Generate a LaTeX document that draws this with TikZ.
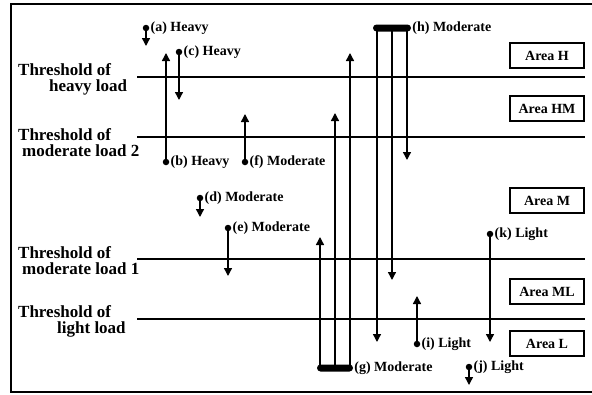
\documentclass[tikz,border=0pt]{standalone}
\usepackage{fontspec}
\setmainfont{Liberation Serif}
\usetikzlibrary{positioning, arrows.meta}
\tikzstyle{Arrow} = [
%vertical move with filled tip
line width=1.4pt, -{Triangle[width=8pt,length=8pt]}
]

\begin{document}
\begin{tikzpicture}[x=1pt, y=-1pt,
			threshold/.style = {line width=1.3pt},
			level/.style = {align=left, inner sep=0pt, anchor=north west, font=\fontsize{17}{16}\selectfont\bfseries},
			area/.style = {rectangle, draw, line width=1.2pt, minimum width=74pt, minimum height=25pt, inner sep=0pt, font=\fontsize{14}{16}\selectfont\bfseries},
			dot/.style = {circle, fill, inner sep=0pt, minimum size=6.5pt},
			bar/.style = {rectangle, fill, rounded corners=3.5pt, inner sep=0pt, minimum height=7pt},
			tag/.style = {anchor=west, inner sep=1pt, font=\fontsize{14}{16}\selectfont\bfseries},
		]
		\useasboundingbox (0,0) rectangle (592,394);
		\draw[line width=1.5pt] (11,4) rectangle (598,392);

		% thresholds
		\coordinate (HL) at (137,77);  \coordinate (HR) at (585,77);
		\coordinate (M2L) at (137,137); \coordinate (M2R) at (585,137);
		\coordinate (M1L) at (137,259); \coordinate (M1R) at (585,259);
		\coordinate (LL) at (137,319);  \coordinate (LR) at (585,319);
		\draw[threshold] (HL)--(HR);
		\draw[threshold] (M2L)--(M2R);
		\draw[threshold] (M1L)--(M1R);
		\draw[threshold] (LL)--(LR);

		\node[level](TH) at (18,63){Threshold of\\\hspace*{31pt}heavy load};
		\node[level](TM2) at (18,128){Threshold of\\\hspace*{4pt}moderate load 2};
		\node[level](TM1) at (18,246){Threshold of\\\hspace*{4pt}moderate load 1};
		\node[level](TL) at (18,305){Threshold of\\\hspace*{39pt}light load};

		% areas
		\node[area](AH) at (547,55.5){Area H};
		\node[area](AHM) at (547,108.5){Area HM};
		\node[area](AM) at (547,200.5){Area M};
		\node[area](AML) at (547,291.5){Area ML};
		\node[area](AL) at (547,343.5){Area L};

		% single moves
		\node[dot](a) at (146,28){};
		\node[tag] at (a.east){(a) Heavy};
		\coordinate (a1) at (146,46);
		\draw[Arrow](a)--(a1);

		\node[dot](b) at (166,162){};
		\node[tag] at (b.east){(b) Heavy};
		\coordinate (b1) at (166,53);
		\draw[Arrow](b)--(b1);

		\node[dot](c) at (179,52){};
		\node[tag] at (c.east){(c) Heavy};
		\coordinate (c1) at (179,100);
		\draw[Arrow](c)--(c1);

		\node[dot](d) at (200,198){};
		\node[tag] at (d.east){(d) Moderate};
		\coordinate (d1) at (200,217);
		\draw[Arrow](d)--(d1);

		\node[dot](e) at (228,228){};
		\node[tag] at (e.east){(e) Moderate};
		\coordinate (e1) at (228,276);
		\draw[Arrow](e)--(e1);

		\node[dot](f) at (245,162){};
		\node[tag] at (f.east){(f) Moderate};
		\coordinate (f1) at (245,114);
		\draw[Arrow](f)--(f1);

		\node[dot](i) at (417,344){};
		\node[tag] at (i.east){(i) Light};
		\coordinate (i1) at (417,296);
		\draw[Arrow](i)--(i1);

		\node[dot](j) at (469,367){};
		\node[tag] at (j.east){(j) Light};
		\coordinate (j1) at (469,385);
		\draw[Arrow](j)--(j1);

		\node[dot](k) at (490,234){};
		\node[tag] at (k.east){(k) Light};
		\coordinate (k1) at (490,342);
		\draw[Arrow](k)--(k1);

		% grouped moves
		\node[bar, minimum width=36pt](g) at (335,368){};
		\node[tag] at (g.east){(g) Moderate};
		\coordinate (g1) at (320,368); \coordinate (g1e) at (320,237);
		\coordinate (g2) at (335,368); \coordinate (g2e) at (335,113);
		\coordinate (g3) at (350,368); \coordinate (g3e) at (350,53);
		\draw[Arrow](g1)--(g1e);
		\draw[Arrow](g2)--(g2e);
		\draw[Arrow](g3)--(g3e);

		\node[bar, minimum width=38pt](h) at (392,28){};
		\node[tag] at (h.east){(h) Moderate};
		\coordinate (h1) at (377,28); \coordinate (h1e) at (377,342);
		\coordinate (h2) at (392,28); \coordinate (h2e) at (392,280);
		\coordinate (h3) at (407,28); \coordinate (h3e) at (407,160);
		\draw[Arrow](h1)--(h1e);
		\draw[Arrow](h2)--(h2e);
		\draw[Arrow](h3)--(h3e);

	\end{tikzpicture}
\end{document}
